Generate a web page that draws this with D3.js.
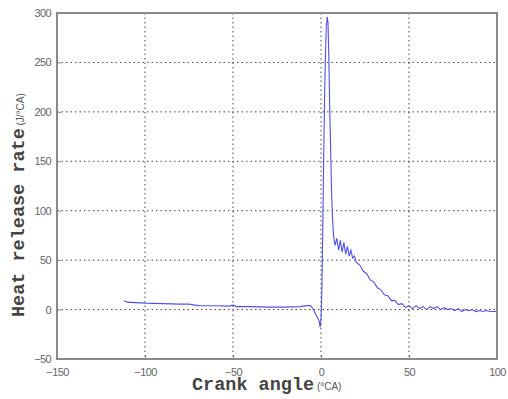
<!DOCTYPE html>
<html>
<head>
<meta charset="utf-8">
<script src="https://cdn.jsdelivr.net/npm/d3@7"></script>
<style>
  html, body { margin: 0; padding: 0; background: #fff; overflow: hidden; }
  svg { display: block; }
</style>
</head>
<body>
<svg id="chart" width="508" height="399" viewBox="0 0 508 399"></svg>
<script>
// heat release rate vs crank angle

const width = 508, height = 399;
const margin = { top: 13, right: 11, bottom: 40, left: 57 };
const innerWidth  = width  - margin.left - margin.right;
const innerHeight = height - margin.top  - margin.bottom;

const xTicks = [-150, -100, -50, 0, 50, 100];
const yTicks = [-50, 0, 50, 100, 150, 200, 250, 300];

const angle = [-112, -110, -105, -100, -90, -80, -75, -70, -60, -52, -50, -48, -40, -30, -20, -12,
  -8, -6, -5, -4, -3, -2, -1, -0.5, 0, 0.5, 1, 1.5, 2, 2.5, 3, 3.5, 4, 4.5, 5, 5.5, 6, 6.5, 7, 7.5,
  8, 9, 10, 11, 12, 13, 14, 15, 16, 17, 18, 19, 20, 22, 24, 26, 28, 30, 32, 34, 36, 38, 40, 42, 44,
  46, 48, 50, 52, 54, 56, 58, 60, 62, 64, 66, 68, 70, 72, 74, 76, 78, 80, 82, 84, 86, 88, 90, 92,
  94, 96, 98, 100];
const hrr = [9, 7.5, 7, 6.5, 6, 5.5, 5.5, 4, 3.8, 3.5, 4.5, 3, 3, 2.5, 2.5, 3,
  4, 4, 2, -1, -5, -8, -12, -18, -10, 20, 80, 150, 210, 255, 285, 296, 290, 250, 200, 160, 120, 95, 78, 70,
  65, 72, 60, 70, 58, 68, 56, 64, 54, 60, 52, 54, 48, 45, 39, 36, 30, 28, 22, 20, 15, 14, 9, 9, 5,
  6, 2, 4, 1, 4, 1, 3, 0, 3, 1, 3, 0, 2, 0, 1, -1, 1, -2, 0, -1, 0, -2, -1, -2,
  -1, -2, -2, -2];

const data = angle.map((a, i) => ({ a, v: hrr[i] }));

const svg = d3.select("#chart");
svg.append("rect").attr("width", width).attr("height", height).attr("fill", "#fff");

const g = svg.append("g")
  .attr("transform", `translate(${margin.left},${margin.top})`);

const x = d3.scaleLinear().domain([-150, 100]).range([0, innerWidth]);
const y = d3.scaleLinear().domain([-50, 300]).range([innerHeight, 0]);

// grid
g.append("g").selectAll("line")
  .data(xTicks.slice(1, -1))
  .join("line")
  .attr("x1", d => x(d)).attr("x2", d => x(d))
  .attr("y1", 0).attr("y2", innerHeight)
  .attr("stroke", "#444").attr("stroke-width", 1)
  .attr("stroke-dasharray", "1.5,3");
g.append("g").selectAll("line")
  .data(yTicks.slice(1, -1))
  .join("line")
  .attr("y1", d => y(d)).attr("y2", d => y(d))
  .attr("x1", 0).attr("x2", innerWidth)
  .attr("stroke", "#444").attr("stroke-width", 1)
  .attr("stroke-dasharray", "1.5,3");

// curve
const line = d3.line().x(d => x(d.a)).y(d => y(d.v));
g.append("path")
  .datum(data)
  .attr("d", line)
  .attr("fill", "none")
  .attr("stroke", "#5050f2")
  .attr("stroke-width", 1.1);

// axes
const xAxis = g.append("g")
  .attr("transform", `translate(0,${innerHeight})`)
  .call(d3.axisBottom(x).tickValues(xTicks).tickSize(-4).tickPadding(8));
const yAxis = g.append("g")
  .call(d3.axisLeft(y).tickValues(yTicks).tickSize(-4).tickPadding(6));

xAxis.selectAll(".tick text").attr("y", 17).attr("dy", null);

[xAxis, yAxis].forEach(ax => {
  ax.select(".domain").remove();
  ax.selectAll(".tick line").attr("stroke", "#888");
  ax.selectAll(".tick text")
    .attr("fill", "#666")
    .style("font-family", "'Liberation Sans', Arial, sans-serif")
    .style("font-size", "11px")
    .style("letter-spacing", "-0.6px");
});

// frame
g.append("rect")
  .attr("width", innerWidth).attr("height", innerHeight)
  .attr("fill", "none").attr("stroke", "#8a8a8a").attr("stroke-width", 2);

// axis labels
const xl = svg.append("text")
  .attr("x", 192).attr("y", 390)
  .style("font-family", "'Liberation Mono', 'Courier New', monospace")
  .style("font-weight", "bold")
  .style("font-size", "18.5px")
  .attr("fill", "#444");
xl.append("tspan").text("Crank angle");
xl.append("tspan").text(" (°CA)")
  .style("font-family", "'Liberation Sans', Arial, sans-serif")
  .style("font-weight", "normal").style("font-size", "10px").attr("fill", "#555");

const yl = svg.append("text")
  .attr("transform", "translate(24,317) rotate(-90)")
  .style("font-family", "'Liberation Mono', 'Courier New', monospace")
  .style("font-weight", "bold")
  .style("font-size", "18.5px")
  .attr("fill", "#444");
yl.append("tspan").text("Heat release rate");
yl.append("tspan").text(" (J/°CA)")
  .style("font-family", "'Liberation Sans', Arial, sans-serif")
  .style("font-weight", "normal").style("font-size", "10px").attr("fill", "#555");
</script>
</body>
</html>
